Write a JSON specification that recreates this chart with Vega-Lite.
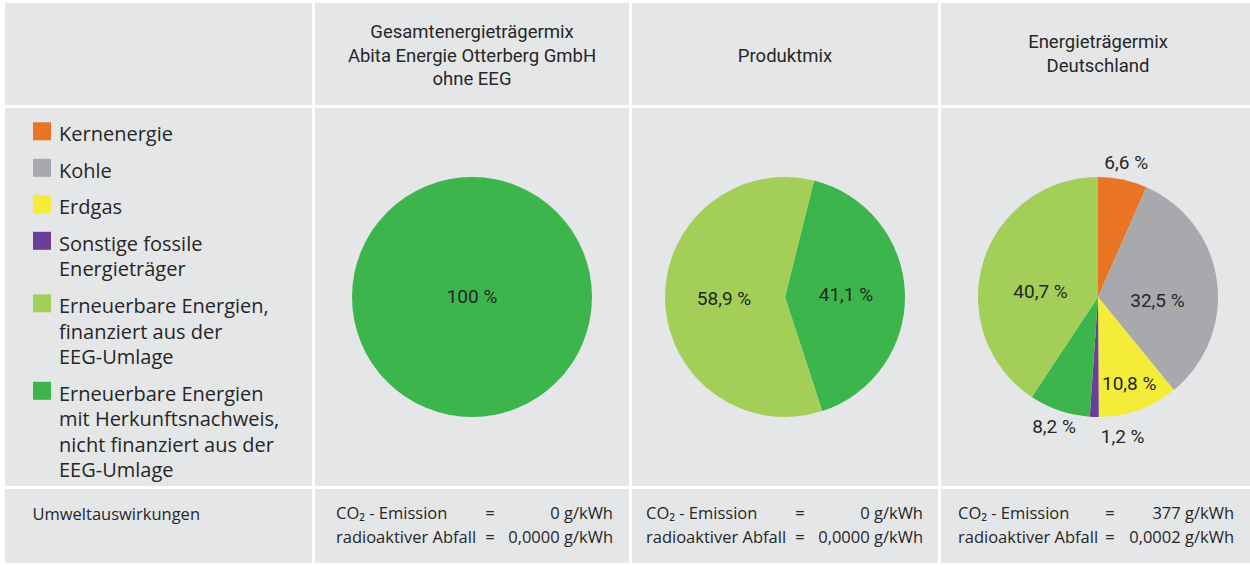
{
  "$schema": "https://vega.github.io/schema/vega-lite/v6.json",
  "background": "#ffffff",
  "padding": {"left": 5, "top": 3, "right": 0, "bottom": 0},
  "config": {
    "view": {"fill": "#e5e6e8", "stroke": null},
    "text": {"color": "#262626"}
  },
  "columns": 4,
  "spacing": {"row": 3, "column": 3},
  "bounds": "flush",
  "concat": [
    {
      "width": 307, "height": 102,
      "view": {"fill": "#e5e6e8", "stroke": null},
      "data": {"values": [{"Titel": ""}]},
      "mark": {"type": "text"},
      "encoding": {"text": {"field": "Titel"}}
    },
    {
      "width": 314, "height": 102,
      "view": {"fill": "#e5e6e8", "stroke": null},
      "data": {"values": [{"Titel": "Gesamtenergieträgermix\nAbita Energie Otterberg GmbH\nohne EEG"}]},
      "mark": {"type": "text", "font": "Roboto", "fontSize": 18.5, "lineHeight": 23.5, "lineBreak": "\n", "baseline": "middle", "dy": -22, "color": "#262626"},
      "encoding": {"text": {"field": "Titel"}}
    },
    {
      "width": 306, "height": 102,
      "view": {"fill": "#e5e6e8", "stroke": null},
      "data": {"values": [{"Titel": "Produktmix"}]},
      "mark": {"type": "text", "font": "Roboto", "fontSize": 18.5, "lineHeight": 23.5, "lineBreak": "\n", "baseline": "middle", "dy": 2, "color": "#262626"},
      "encoding": {"text": {"field": "Titel"}}
    },
    {
      "width": 314, "height": 102,
      "view": {"fill": "#e5e6e8", "stroke": null},
      "data": {"values": [{"Titel": "Energieträgermix\nDeutschland"}]},
      "mark": {"type": "text", "font": "Roboto", "fontSize": 18.5, "lineHeight": 23.5, "lineBreak": "\n", "baseline": "middle", "dy": -12, "color": "#262626"},
      "encoding": {"text": {"field": "Titel"}}
    },
    {
      "width": 307, "height": 378,
      "view": {"fill": "#e5e6e8", "stroke": null},
      "data": {"values": [{"Titel": ""}]},
      "mark": {"type": "text"},
      "encoding": {"text": {"field": "Titel"}}
    },
    {
      "width": 314, "height": 378,
      "view": {"fill": "#e5e6e8", "stroke": null},
      "data": {"values": [
        {"Kategorie": "Erneuerbare Energien mit Herkunftsnachweis, nicht finanziert aus der EEG-Umlage", "Anteil": 100, "Reihenfolge": 5, "Beschriftung": "100 %"}
      ]},
      "layer": [
        {
          "mark": {"type": "arc", "outerRadius": 120},
          "encoding": {
            "theta": {"field": "Anteil", "type": "quantitative", "stack": true},
            "order": {"field": "Reihenfolge", "type": "quantitative"},
            "color": {
              "field": "Kategorie", "type": "nominal",
              "scale": {
                "domain": ["Kernenergie", "Kohle", "Erdgas", "Sonstige fossile Energieträger", "Erneuerbare Energien, finanziert aus der EEG-Umlage", "Erneuerbare Energien mit Herkunftsnachweis, nicht finanziert aus der EEG-Umlage"],
                "range": ["#e87424", "#a8a9ad", "#f4ec38", "#6b3f99", "#a3cf59", "#3cb64c"]
              }
            }
          }
        },
        {
          "mark": {"type": "text", "font": "Roboto", "fontSize": 19, "color": "#262626"},
          "encoding": {"text": {"field": "Beschriftung"}}
        }
      ]
    },
    {
      "width": 306, "height": 378,
      "view": {"fill": "#e5e6e8", "stroke": null},
      "data": {"values": [
        {"Kategorie": "Erneuerbare Energien mit Herkunftsnachweis, nicht finanziert aus der EEG-Umlage", "Anteil": 41.1, "Reihenfolge": 5, "Beschriftung": "41,1 %"},
        {"Kategorie": "Erneuerbare Energien, finanziert aus der EEG-Umlage", "Anteil": 58.9, "Reihenfolge": 6, "Beschriftung": "58,9 %"}
      ]},
      "encoding": {
        "theta": {"field": "Anteil", "type": "quantitative", "stack": true, "scale": {"range": [0.2443, 6.5275]}},
        "order": {"field": "Reihenfolge", "type": "quantitative"}
      },
      "layer": [
        {
          "mark": {"type": "arc", "outerRadius": 120},
          "encoding": {
            "color": {
              "field": "Kategorie", "type": "nominal",
              "scale": {
                "domain": ["Kernenergie", "Kohle", "Erdgas", "Sonstige fossile Energieträger", "Erneuerbare Energien, finanziert aus der EEG-Umlage", "Erneuerbare Energien mit Herkunftsnachweis, nicht finanziert aus der EEG-Umlage"],
                "range": ["#e87424", "#a8a9ad", "#f4ec38", "#6b3f99", "#a3cf59", "#3cb64c"]
              }
            }
          }
        },
        {
          "mark": {"type": "text", "radius": 61, "font": "Roboto", "fontSize": 19, "color": "#262626"},
          "encoding": {"text": {"field": "Beschriftung"}}
        }
      ]
    },
    {
      "width": 314, "height": 378,
      "view": {"fill": "#e5e6e8", "stroke": null},
      "data": {"values": [
        {"Kategorie": "Kernenergie", "Anteil": 6.6, "Reihenfolge": 1, "Beschriftung": "6,6 %"},
        {"Kategorie": "Kohle", "Anteil": 32.5, "Reihenfolge": 2, "Beschriftung": "32,5 %"},
        {"Kategorie": "Erdgas", "Anteil": 10.8, "Reihenfolge": 3, "Beschriftung": "10,8 %"},
        {"Kategorie": "Sonstige fossile Energieträger", "Anteil": 1.2, "Reihenfolge": 4, "Beschriftung": "1,2 %"},
        {"Kategorie": "Erneuerbare Energien mit Herkunftsnachweis, nicht finanziert aus der EEG-Umlage", "Anteil": 8.2, "Reihenfolge": 5, "Beschriftung": "8,2 %"},
        {"Kategorie": "Erneuerbare Energien, finanziert aus der EEG-Umlage", "Anteil": 40.7, "Reihenfolge": 6, "Beschriftung": "40,7 %"}
      ]},
      "encoding": {
        "theta": {"field": "Anteil", "type": "quantitative", "stack": true},
        "order": {"field": "Reihenfolge", "type": "quantitative"}
      },
      "layer": [
        {
          "mark": {"type": "arc", "outerRadius": 120},
          "encoding": {
            "color": {
              "field": "Kategorie", "type": "nominal",
              "scale": {
                "domain": ["Kernenergie", "Kohle", "Erdgas", "Sonstige fossile Energieträger", "Erneuerbare Energien, finanziert aus der EEG-Umlage", "Erneuerbare Energien mit Herkunftsnachweis, nicht finanziert aus der EEG-Umlage"],
                "range": ["#e87424", "#a8a9ad", "#f4ec38", "#6b3f99", "#a3cf59", "#3cb64c"]
              },
              "legend": {
                "orient": "none",
                "legendX": 27,
                "legendY": 112,
                "title": null,
                "padding": 0,
                "symbolType": "M-1,-0.3H1V1.7H-1Z",
                "symbolSize": 324,
                "symbolStrokeWidth": 0,
                "symbolOpacity": 1,
                "labelFont": "Open Sans",
                "labelFontSize": 20,
                "labelColor": "#262626",
                "labelOffset": 7,
                "labelBaseline": "top",
                "labelLimit": 300,
                "rowPadding": 6.5,
                "labelExpr": "datum.label == 'Sonstige fossile Energieträger' ? ['Sonstige fossile', 'Energieträger'] : datum.label == 'Erneuerbare Energien, finanziert aus der EEG-Umlage' ? ['Erneuerbare Energien,', 'finanziert aus der', 'EEG-Umlage'] : datum.label == 'Erneuerbare Energien mit Herkunftsnachweis, nicht finanziert aus der EEG-Umlage' ? ['Erneuerbare Energien', 'mit Herkunftsnachweis,', 'nicht finanziert aus der', 'EEG-Umlage'] : datum.label",
                "encode": {"labels": {"update": {"lineHeight": {"value": 25.5}}}}
              }
            }
          }
        },
        {
          "mark": {"type": "text", "radius": 60, "dy": 12, "font": "Roboto", "fontSize": 19, "color": "#262626"},
          "encoding": {"text": {"condition": {"test": "datum.Anteil >= 30", "field": "Beschriftung"}, "value": ""}}
        },
        {
          "mark": {"type": "text", "radius": 92, "font": "Roboto", "fontSize": 19, "color": "#262626"},
          "encoding": {"text": {"condition": {"test": "datum.Kategorie == 'Erdgas'", "field": "Beschriftung"}, "value": ""}}
        },
        {
          "mark": {"type": "text", "radius": 137, "font": "Roboto", "fontSize": 19, "color": "#262626"},
          "encoding": {"text": {"condition": {"test": "datum.Reihenfolge == 1 || datum.Reihenfolge == 5", "field": "Beschriftung"}, "value": ""}}
        },
        {
          "mark": {"type": "text", "radius": 140, "dx": 29, "font": "Roboto", "fontSize": 19, "color": "#262626"},
          "encoding": {"text": {"condition": {"test": "datum.Reihenfolge == 4", "field": "Beschriftung"}, "value": ""}}
        }
      ]
    },
    {
      "width": 307, "height": 74,
      "view": {"fill": "#e5e6e8", "stroke": null},
      "data": {"values": [{"Zeile": 1, "Titel": "Umweltauswirkungen"}]},
      "mark": {"type": "text", "align": "left", "dx": -126, "dy": -11, "font": "Open Sans", "fontSize": 16.5, "color": "#262626"},
      "encoding": {"text": {"field": "Titel"}}
    },
    {
      "width": 314, "height": 74,
      "data": {"values": [
        {"Zeile": 1, "Bezeichnung": "CO₂ - Emission", "Zeichen": "=", "Wert": "0 g/kWh"},
        {"Zeile": 2, "Bezeichnung": "radioaktiver Abfall", "Zeichen": "=", "Wert": "0,0000 g/kWh"}
      ]},
      "encoding": {"y": {"field": "Zeile", "type": "ordinal", "scale": {"type": "point", "padding": 1.04}, "axis": null}},
      "layer": [
        {"mark": {"type": "text", "align": "left", "dx": -136, "font": "Open Sans", "fontSize": 16.5, "color": "#262626"}, "encoding": {"text": {"field": "Bezeichnung"}}},
        {"mark": {"type": "text", "align": "center", "dx": 18, "font": "Open Sans", "fontSize": 16.5, "color": "#262626"}, "encoding": {"text": {"field": "Zeichen"}}},
        {"mark": {"type": "text", "align": "right", "dx": 141, "font": "Open Sans", "fontSize": 16.5, "color": "#262626"}, "encoding": {"text": {"field": "Wert"}}}
      ]
    },
    {
      "width": 306, "height": 74,
      "data": {"values": [
        {"Zeile": 1, "Bezeichnung": "CO₂ - Emission", "Zeichen": "=", "Wert": "0 g/kWh"},
        {"Zeile": 2, "Bezeichnung": "radioaktiver Abfall", "Zeichen": "=", "Wert": "0,0000 g/kWh"}
      ]},
      "encoding": {"y": {"field": "Zeile", "type": "ordinal", "scale": {"type": "point", "padding": 1.04}, "axis": null}},
      "layer": [
        {"mark": {"type": "text", "align": "left", "dx": -139, "font": "Open Sans", "fontSize": 16.5, "color": "#262626"}, "encoding": {"text": {"field": "Bezeichnung"}}},
        {"mark": {"type": "text", "align": "center", "dx": 15, "font": "Open Sans", "fontSize": 16.5, "color": "#262626"}, "encoding": {"text": {"field": "Zeichen"}}},
        {"mark": {"type": "text", "align": "right", "dx": 138, "font": "Open Sans", "fontSize": 16.5, "color": "#262626"}, "encoding": {"text": {"field": "Wert"}}}
      ]
    },
    {
      "width": 314, "height": 74,
      "data": {"values": [
        {"Zeile": 1, "Bezeichnung": "CO₂ - Emission", "Zeichen": "=", "Wert": "377 g/kWh"},
        {"Zeile": 2, "Bezeichnung": "radioaktiver Abfall", "Zeichen": "=", "Wert": "0,0002 g/kWh"}
      ]},
      "encoding": {"y": {"field": "Zeile", "type": "ordinal", "scale": {"type": "point", "padding": 1.04}, "axis": null}},
      "layer": [
        {"mark": {"type": "text", "align": "left", "dx": -140, "font": "Open Sans", "fontSize": 16.5, "color": "#262626"}, "encoding": {"text": {"field": "Bezeichnung"}}},
        {"mark": {"type": "text", "align": "center", "dx": 12, "font": "Open Sans", "fontSize": 16.5, "color": "#262626"}, "encoding": {"text": {"field": "Zeichen"}}},
        {"mark": {"type": "text", "align": "right", "dx": 136, "font": "Open Sans", "fontSize": 16.5, "color": "#262626"}, "encoding": {"text": {"field": "Wert"}}}
      ]
    }
  ]
}
